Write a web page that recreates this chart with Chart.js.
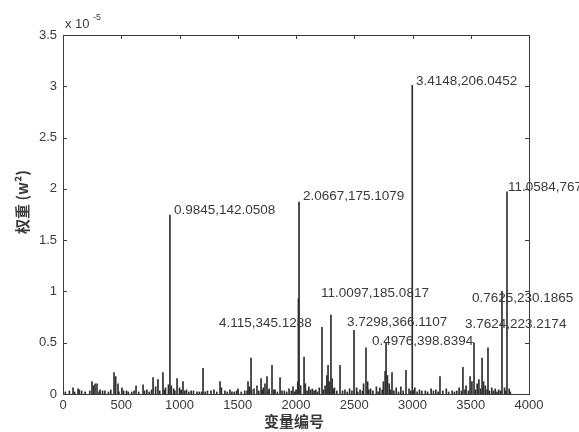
<!DOCTYPE html>
<html>
<head>
<meta charset="utf-8">
<script src="https://cdn.jsdelivr.net/npm/chart.js@4.4.1/dist/chart.umd.min.js"></script>
<style>
  html, body { margin: 0; padding: 0; background: #fff; }
  #wrap { width: 579px; height: 432px; }
</style>
</head>
<body>
<div id="wrap"><canvas id="c" width="579" height="432"></canvas></div>
<script>
// Axis ticks and titles
const xTickValues = [0, 500, 1000, 1500, 2000, 2500, 3000, 3500, 4000];
const yTickValues = [0, 0.5, 1, 1.5, 2, 2.5, 3, 3.5];
const yExponent = '-5';
const xTitle = '变量编号';
const yTitle = '权重 (w²)';

// Dominant variables: [variable index, weight ×1e-5]
const majorSpikes = [
  [918, 1.745], [2021, 0.93], [2026, 1.87], [2998, 3.01], [3768, 1.0], [3811, 1.97]
];

// Secondary peaks: [variable index, weight ×1e-5]
const minorSpikes = [
  [86, 0.06], [129, 0.05], [160, 0.03], [249, 0.12], [262, 0.08], [275, 0.10], [292, 0.10],
  [318, 0.04], [360, 0.03], [438, 0.21], [452, 0.17], [472, 0.10], [506, 0.06], [545, 0.03],
  [590, 0.02], [627, 0.08], [687, 0.09], [720, 0.04], [773, 0.16], [795, 0.07], [815, 0.14],
  [858, 0.21], [880, 0.06], [905, 0.09], [930, 0.08], [950, 0.05], [979, 0.15], [1000, 0.06],
  [1030, 0.12], [1060, 0.04], [1100, 0.03], [1150, 0.02], [1202, 0.25], [1240, 0.03],
  [1296, 0.04], [1348, 0.12], [1360, 0.06], [1433, 0.04], [1470, 0.02], [1502, 0.05],
  [1560, 0.03], [1588, 0.12], [1600, 0.07], [1614, 0.35], [1640, 0.05], [1665, 0.08],
  [1700, 0.15], [1720, 0.06], [1734, 0.10], [1751, 0.17], [1770, 0.05], [1794, 0.28],
  [1820, 0.04], [1863, 0.16], [1900, 0.03], [1940, 0.05], [1974, 0.07], [2000, 0.04],
  [2015, 0.12], [2040, 0.08], [2069, 0.36], [2080, 0.10], [2110, 0.07], [2140, 0.05],
  [2170, 0.04], [2200, 0.06], [2223, 0.65], [2250, 0.08], [2265, 0.18], [2275, 0.28],
  [2285, 0.12], [2300, 0.77], [2310, 0.15], [2330, 0.06], [2378, 0.28], [2420, 0.04],
  [2460, 0.05], [2498, 0.62], [2520, 0.06], [2550, 0.04], [2580, 0.10], [2601, 0.45],
  [2615, 0.12], [2640, 0.05], [2690, 0.07], [2720, 0.06], [2750, 0.12], [2765, 0.22],
  [2773, 0.50], [2785, 0.18], [2800, 0.10], [2824, 0.21], [2860, 0.06], [2900, 0.07],
  [2944, 0.23], [2970, 0.05], [3020, 0.06], [3060, 0.04], [3110, 0.03], [3160, 0.05],
  [3200, 0.04], [3236, 0.17], [3290, 0.05], [3340, 0.03], [3400, 0.06], [3433, 0.26],
  [3460, 0.08], [3494, 0.17], [3510, 0.12], [3528, 0.50], [3555, 0.10], [3570, 0.14],
  [3597, 0.35], [3610, 0.12], [3625, 0.08], [3648, 0.45], [3680, 0.06], [3710, 0.05],
  [3740, 0.04], [3790, 0.06], [3830, 0.05]
];

// Low-level background weights: [variable index, weight ×1e-5]
const floorSpikes = [
  [20, 0.02], [55, 0.03], [100, 0.02], [140, 0.04], [190, 0.02], [230, 0.03], [310, 0.02],
  [340, 0.03], [390, 0.02], [410, 0.04], [480, 0.02], [520, 0.03], [560, 0.02], [610, 0.03],
  [650, 0.02], [700, 0.03], [740, 0.02], [760, 0.04], [830, 0.03], [870, 0.04], [960, 0.03],
  [1015, 0.04], [1045, 0.03], [1080, 0.02], [1120, 0.03], [1170, 0.02], [1190, 0.02],
  [1220, 0.02], [1270, 0.03], [1320, 0.02], [1390, 0.03], [1410, 0.02], [1450, 0.02],
  [1490, 0.03], [1530, 0.02], [1580, 0.03], [1620, 0.04], [1680, 0.03], [1710, 0.04],
  [1760, 0.03], [1810, 0.04], [1840, 0.02], [1880, 0.03], [1920, 0.02], [1960, 0.03],
  [1990, 0.02], [2095, 0.03], [2125, 0.04], [2155, 0.03], [2185, 0.02], [2235, 0.04],
  [2320, 0.05], [2350, 0.03], [2400, 0.03], [2440, 0.02], [2480, 0.03], [2530, 0.02],
  [2570, 0.03], [2625, 0.04], [2660, 0.03], [2705, 0.02], [2740, 0.04], [2810, 0.04],
  [2840, 0.03], [2880, 0.02], [2920, 0.03], [2985, 0.03], [3040, 0.02], [3080, 0.03],
  [3130, 0.02], [3180, 0.03], [3220, 0.02], [3260, 0.03], [3310, 0.02], [3360, 0.02],
  [3380, 0.03], [3420, 0.03], [3450, 0.04], [3480, 0.03], [3540, 0.04], [3585, 0.05],
  [3640, 0.04], [3660, 0.03], [3695, 0.03], [3725, 0.02], [3755, 0.03], [3800, 0.03],
  [3840, 0.02]
];

// Text callouts: anchor in data units (variable index, weight ×1e-5)
const calloutText = [
  '0.9845,142.0508', '2.0667,175.1079', '3.4148,206.0452', '11.0584,767',
  '11.0097,185.0817', '0.7625,230.1865', '4.115,345.1288', '3.7298,366.1107',
  '3.7624,223.2174', '0.4976,398.8394'
];
const calloutX = [953, 2060, 3030, 3820, 2215, 3511, 1339, 2438, 3451, 2652];
const calloutY = [1.79, 1.93, 3.05, 2.02, 0.98, 0.93, 0.69, 0.70, 0.68, 0.51];

const INK = '#2e2e2e';
const TEXT = '#3a3a3a';
const FONT = '"Liberation Sans", Arial, sans-serif';

const toPoints = arr => arr.map(([x, y]) => ({ x, y }));

// Box, inward ticks, exponent, axis titles and callouts
const framePlugin = {
  id: 'frame',
  afterDraw(chart) {
    const { ctx, chartArea: a, scales: { x, y } } = chart;
    ctx.save();
    ctx.strokeStyle = '#3c3c3c';
    ctx.lineWidth = 1;
    ctx.strokeRect(Math.round(a.left) + 0.5, Math.round(a.top) + 0.5,
                   Math.round(a.right - a.left), Math.round(a.bottom - a.top));
    const tl = 4;
    ctx.beginPath();
    xTickValues.forEach(v => {
      const px = Math.round(x.getPixelForValue(v)) + 0.5;
      ctx.moveTo(px, a.bottom); ctx.lineTo(px, a.bottom - tl);
      ctx.moveTo(px, a.top); ctx.lineTo(px, a.top + tl);
    });
    yTickValues.forEach(v => {
      const py = Math.round(y.getPixelForValue(v)) + 0.5;
      ctx.moveTo(a.left, py); ctx.lineTo(a.left + tl, py);
      ctx.moveTo(a.right, py); ctx.lineTo(a.right - tl, py);
    });
    ctx.stroke();

    ctx.fillStyle = TEXT;
    ctx.textBaseline = 'middle';
    ctx.textAlign = 'left';
    ctx.font = '13px ' + FONT;
    ctx.fillText('x 10', a.left + 2, a.top - 11);
    ctx.font = '9px ' + FONT;
    ctx.fillText(yExponent, a.left + 30, a.top - 17);

    ctx.font = '13.5px ' + FONT;
    calloutText.forEach((t, i) => {
      ctx.fillText(t, x.getPixelForValue(calloutX[i]), y.getPixelForValue(calloutY[i]));
    });

    ctx.font = 'bold 15px "Noto Sans CJK SC", sans-serif';
    ctx.textAlign = 'center';
    ctx.fillText(xTitle, 294, 421);
    ctx.save();
    ctx.translate(22, 202);
    ctx.rotate(-Math.PI / 2);
    ctx.font = 'bold 15px "Noto Sans CJK SC", sans-serif';
    ctx.fillText(yTitle, 0, 0);
    ctx.restore();
    ctx.restore();
  }
};

new Chart(document.getElementById('c'), {
  type: 'bar',
  data: {
    datasets: [
      { data: toPoints(floorSpikes), backgroundColor: INK, barThickness: 1, borderWidth: 0 },
      { data: toPoints(minorSpikes), backgroundColor: INK, barThickness: 1, borderWidth: 0 },
      { data: toPoints(majorSpikes), backgroundColor: INK, barThickness: 1, borderWidth: 0 }
    ]
  },
  options: {
    responsive: false,
    animation: false,
    grouped: false,
    layout: { padding: { top: 35, right: 50, left: 0, bottom: 0 } },
    plugins: { legend: { display: false }, tooltip: { enabled: false } },
    scales: {
      x: {
        type: 'linear',
        min: 0, max: 4000,
        offset: false,
        grid: { display: false, drawTicks: false },
        border: { display: false },
        afterBuildTicks(s) { s.ticks = xTickValues.map(v => ({ value: v })); },
        afterFit(s) { s.height = 38; },
        ticks: {
          color: TEXT, padding: 4, maxRotation: 0, autoSkip: false,
          font: { family: FONT, size: 13 },
          callback: v => String(v)
        }
      },
      y: {
        min: 0, max: 3.5,
        grid: { display: false, drawTicks: false },
        border: { display: false },
        afterBuildTicks(s) { s.ticks = yTickValues.map(v => ({ value: v })); },
        afterFit(s) { s.width = 63; },
        ticks: {
          color: TEXT, padding: 6, autoSkip: false,
          font: { family: FONT, size: 13 },
          callback: v => String(v)
        }
      }
    }
  },
  plugins: [framePlugin]
});
</script>
</body>
</html>
